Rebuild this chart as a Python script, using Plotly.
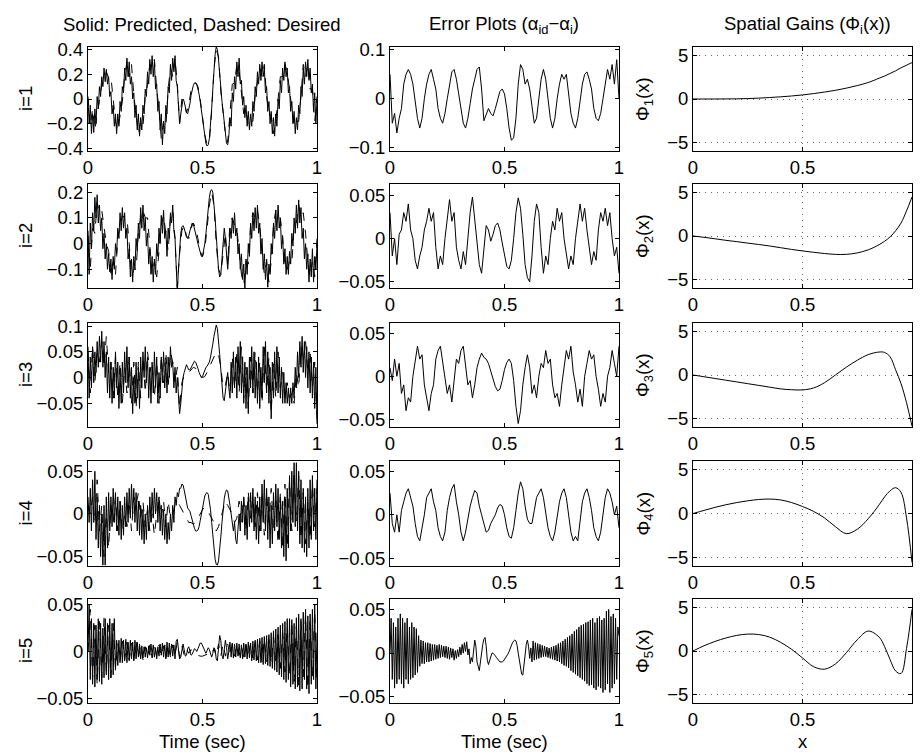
import numpy as np
import plotly.graph_objects as go

# Page is drawn with the browser's default 8px body margin, so the figure is
# sized to the visible area and every pixel position is given relative to it.
W, H = 905, 748
OFF = 8
FONT = "Liberation Sans, Arial, Helvetica, sans-serif"

# ---------------- data ----------------
# Column 1: predicted (solid) and desired (dashed) modal amplitudes, t = 0..1 s
pred1 = [0.00,-0.20,-0.05,-0.28,-0.12,-0.27,-0.08,-0.20,0.02,-0.08,
         0.10,0.02,0.18,0.10,0.25,0.14,0.24,0.12,0.18,0.02,
         0.06,-0.12,-0.05,-0.22,-0.12,-0.28,-0.12,-0.22,-0.02,-0.10,
         0.10,0.05,0.25,0.15,0.33,0.18,0.30,0.12,0.18,0.00,
         0.05,-0.15,-0.05,-0.25,-0.12,-0.30,-0.15,-0.25,-0.05,-0.12,
         0.08,0.02,0.22,0.12,0.32,0.20,0.35,0.18,0.30,0.08,
         0.12,-0.10,-0.02,-0.25,-0.12,-0.37,-0.18,-0.28,-0.05,-0.12,
         0.10,0.05,0.28,0.15,0.33,0.22,0.35,0.15,0.10,-0.05,
         -0.20,
         -0.12,-0.04,0.00,-0.02,-0.07,-0.11,-0.12,-0.09,-0.04,0.03,
         0.08,0.11,0.13,0.13,0.12,0.09,0.04,-0.02,-0.09,-0.16,
         -0.24,-0.31,-0.36,-0.38,-0.37,-0.32,-0.22,-0.08,0.08,0.24,
         0.36,0.42,0.40,0.32,0.18,0.06,-0.02,-0.10,-0.20,-0.30,
         -0.36,-0.37,-0.30,
         -0.15,-0.22,0.05,-0.02,0.18,0.08,0.30,0.18,0.33,0.12,
         0.15,-0.05,0.02,-0.15,-0.05,-0.22,-0.10,-0.25,-0.12,-0.22,
         -0.02,-0.10,0.10,0.02,0.22,0.12,0.28,0.15,0.30,0.18,
         0.25,0.05,0.10,-0.10,-0.02,-0.20,-0.10,-0.28,-0.15,-0.30,
         -0.12,-0.22,0.00,-0.08,0.15,0.05,0.25,0.15,0.30,0.18,
         0.25,0.05,0.10,-0.10,-0.02,-0.20,-0.10,-0.28,-0.15,-0.25,
         -0.05,-0.12,0.10,0.02,0.25,0.12,0.30,0.18,0.32,0.15,
         0.25,0.05,0.12,-0.10,0.05,-0.20,0.00]
des1 = [0.02,-0.22,-0.08,-0.25,-0.12,-0.02,0.12,0.13,0.22,0.17,
        0.18,-0.02,-0.18,-0.25,-0.15,-0.02,0.18,0.3,0.18,0.28,
        0.03,-0.12,-0.28,-0.18,-0.22,0.02,0.12,0.28,0.25,0.32,
        0.08,-0.08,-0.32,-0.18,-0.22,0.08,0.25,0.18,0.33,0.12,
        -0.19,0.0,-0.02,-0.11,-0.05,0.07,0.12,0.13,0.1,0.0,
        -0.14,-0.29,-0.37,-0.34,-0.1,0.24,0.4,0.34,0.06,-0.1,
        -0.28,-0.35,-0.12,0.12,0.13,0.28,0.22,0.02,-0.12,-0.08,
        -0.22,-0.18,-0.18,0.02,0.13,0.25,0.18,0.28,0.02,-0.12,
        -0.13,-0.28,-0.18,-0.02,0.18,0.18,0.28,0.22,0.08,-0.08,
        -0.22,-0.18,-0.18,0.02,0.28,0.18,0.28,0.08,0.08,-0.18,
        0.02]
pred2 = [0.05,-0.12,0.08,-0.02,0.12,0.05,0.18,0.10,0.19,0.08,
         0.15,0.05,0.10,-0.02,0.04,-0.06,0.00,-0.10,-0.04,-0.11,
         -0.06,-0.14,-0.05,-0.10,0.00,-0.04,0.06,0.02,0.12,0.05,
         0.14,0.06,0.12,0.02,0.06,-0.06,-0.02,-0.13,-0.06,-0.15,
         -0.05,-0.10,0.02,-0.03,0.08,0.02,0.14,0.06,0.15,0.05,
         0.10,-0.01,0.04,-0.08,-0.02,-0.12,-0.05,-0.15,-0.06,-0.12,
         0.00,-0.05,0.06,0.00,0.11,0.04,0.13,0.02,0.05,-0.05,
         0.06,0.02,0.12,0.08,0.15,0.05,0.02,-0.12,-0.19,-0.10,
         -0.02,
         0.04,0.065,0.07,0.06,0.04,0.025,0.02,0.03,0.05,0.07,
         0.08,0.075,0.06,0.04,0.02,0.0,-0.02,-0.04,-0.05,-0.05,
         -0.03,0.0,0.04,0.09,0.14,0.18,0.205,0.21,0.20,0.16,
         0.10,0.03,-0.04,-0.10,-0.13,-0.12,-0.06,0.02,0.06,0.02,
         -0.06,-0.10,-0.04,
         0.06,0.02,0.10,0.04,0.12,0.03,0.06,-0.04,0.00,-0.10,
         -0.04,-0.14,-0.08,-0.18,-0.06,-0.12,0.00,-0.05,0.08,0.02,
         0.12,0.05,0.14,0.06,0.15,0.04,0.08,-0.04,0.02,-0.10,
         -0.04,-0.14,-0.06,-0.17,-0.08,-0.12,0.00,-0.04,0.08,0.02,
         0.13,0.05,0.15,0.06,0.10,-0.02,0.03,-0.08,-0.02,-0.12,
         -0.05,-0.12,-0.03,-0.08,0.04,-0.01,0.10,0.04,0.15,0.06,
         0.17,0.08,0.14,0.02,0.06,-0.06,0.00,-0.10,-0.04,-0.15,
         -0.06,-0.13,-0.02,-0.15,-0.05,-0.10,0.00]
des2 = [0.03,-0.1,0.06,0.04,0.16,0.12,0.13,0.07,0.0,-0.03,
        -0.12,-0.07,-0.12,0.02,0.07,0.11,0.1,0.1,0.0,-0.13,
        -0.1,-0.1,0.04,0.1,0.13,0.1,0.1,0.0,-0.12,-0.07,
        -0.13,-0.03,0.07,0.11,0.04,-0.03,0.1,0.13,0.02,-0.17,
        -0.04,0.05,0.07,0.03,0.02,0.06,0.08,0.06,0.02,-0.03,
        -0.05,-0.02,0.06,0.15,0.2,0.15,0.0,-0.1,-0.12,-0.05,
        0.04,-0.08,0.08,0.1,0.07,0.06,-0.03,-0.12,-0.16,-0.07,
        -0.08,0.07,0.12,0.1,0.13,0.07,-0.03,-0.12,-0.07,-0.15,
        -0.07,0.07,0.13,0.1,0.1,0.02,-0.1,-0.1,-0.07,-0.08,
        0.07,0.08,0.15,0.1,0.12,0.04,-0.07,-0.13,-0.07,-0.13,
        0.02]
pred3 = [0.06,-0.04,0.04,-0.02,0.06,-0.01,0.05,0.01,0.07,0.02,
         0.08,0.03,0.09,0.02,0.07,0.0,0.05,-0.03,0.04,-0.04,
         0.03,-0.05,0.02,-0.04,0.05,-0.02,0.03,-0.06,0.01,-0.05,
         0.03,-0.03,0.05,-0.01,0.06,-0.02,0.04,-0.04,0.02,-0.07,
         0.0,-0.05,0.03,-0.04,0.02,-0.06,0.04,-0.02,0.05,0.0,
         0.06,-0.01,0.04,-0.04,0.02,-0.05,0.03,-0.03,0.05,-0.02,
         0.04,-0.05,0.01,-0.04,0.04,-0.01,0.05,-0.02,0.03,-0.03,
         0.04,0.0,0.06,0.02,0.03,-0.02,0.02,-0.03,0.0,-0.05,
         -0.07,
         -0.05,-0.02,0.0,0.01,0.02,0.025,0.02,0.015,0.015,0.02,
         0.025,0.03,0.032,0.03,0.025,0.018,0.01,0.004,0.0,0.002,
         0.008,0.015,0.02,0.022,0.025,0.03,0.04,0.05,0.065,0.08,
         0.095,0.102,0.095,0.075,0.045,0.015,-0.015,-0.04,-0.045,-0.03,
         -0.01,0.01,-0.02,
         -0.04,0.03,-0.03,0.05,-0.02,0.04,-0.04,0.06,-0.01,0.07,
         -0.03,0.04,-0.05,0.03,-0.06,0.02,-0.07,0.04,-0.02,0.06,
         -0.03,0.05,-0.04,0.03,-0.05,0.04,-0.06,0.02,-0.04,0.06,
         -0.01,0.07,-0.03,0.05,-0.05,0.02,-0.08,0.03,-0.04,0.05,
         -0.02,0.06,-0.03,0.04,-0.04,0.02,-0.05,0.01,-0.05,-0.01,
         -0.05,-0.02,-0.055,-0.02,-0.05,-0.01,-0.04,0.02,-0.02,0.05,
         0.0,0.07,0.02,0.08,0.01,0.07,0.0,0.06,-0.02,0.05,
         -0.03,0.04,-0.04,0.03,-0.06,0.02,-0.09]
des3 = [0.05,-0.03,0.06,-0.01,0.05,0.03,0.07,0.02,0.08,0.01,
        0.03,-0.04,0.04,-0.04,0.03,-0.05,0.02,-0.03,0.04,-0.05,
        0.03,-0.06,0.03,-0.04,0.04,-0.03,0.05,0.01,0.03,-0.04,
        0.03,-0.05,0.04,-0.01,0.05,-0.02,0.05,0.03,-0.01,0.02,
        -0.06,-0.01,0.005,0.01,0.01,0.015,0.02,0.018,0.01,0.003,
        0.0,0.002,0.01,0.02,0.03,0.04,0.05,0.045,0.02,-0.02,
        -0.015,0.01,-0.03,0.04,-0.02,0.05,-0.03,0.06,-0.04,0.02,
        -0.06,0.04,-0.03,0.05,-0.03,0.03,-0.05,0.06,-0.03,0.04,
        -0.07,0.03,-0.04,0.05,-0.02,0.01,-0.04,-0.01,-0.04,-0.03,
        -0.05,0.01,-0.02,0.06,0.03,0.07,0.01,0.05,-0.02,0.03,
        -0.08]
pred4 = [0.02,-0.01,0.03,-0.02,0.04,-0.01,0.05,-0.03,0.02,-0.04,
         0.01,-0.05,0.0,-0.06,0.01,-0.06,0.02,-0.04,0.025,-0.02,
         0.02,-0.015,0.03,-0.01,0.025,-0.02,0.02,-0.025,0.015,-0.03,
         0.01,-0.025,0.02,-0.015,0.025,-0.01,0.03,-0.005,0.035,0.0,
         0.03,-0.01,0.025,-0.02,0.015,-0.025,0.01,-0.03,0.005,-0.035,
         0.0,-0.03,0.01,-0.02,0.02,-0.01,0.025,-0.005,0.03,0.0,
         0.025,-0.01,0.02,-0.02,0.01,-0.025,0.005,-0.03,0.0,-0.035,
         -0.01,-0.03,0.0,-0.02,0.01,-0.01,0.02,0.01,0.025,0.02,
         0.03,
         0.03,0.035,0.034,0.028,0.02,0.012,0.007,0.005,0.003,-0.002,
         -0.008,-0.013,-0.017,-0.02,-0.02,-0.019,-0.015,-0.008,0.0,0.008,
         0.016,0.021,0.024,0.025,0.023,0.016,0.005,-0.01,-0.026,-0.041,
         -0.053,-0.059,-0.06,-0.055,-0.043,-0.027,-0.01,0.006,0.018,0.025,
         0.028,0.027,0.02,
         0.01,0.0,-0.01,-0.02,-0.01,-0.03,-0.035,-0.02,0.0,-0.02,
         0.015,-0.01,0.02,-0.025,0.01,-0.03,0.02,-0.015,0.025,-0.01,
         0.03,-0.02,0.02,-0.03,0.015,-0.035,0.02,-0.02,0.035,-0.01,
         0.04,-0.02,0.03,-0.03,0.02,-0.04,0.01,-0.035,0.025,-0.02,
         0.035,-0.015,0.03,-0.03,0.02,-0.04,0.015,-0.05,0.02,-0.055,
         0.03,-0.04,0.045,-0.02,0.05,-0.01,0.06,-0.015,0.06,-0.02,
         0.05,-0.035,0.04,-0.04,0.03,-0.045,0.02,-0.05,0.03,-0.04,
         0.04,-0.03,0.045,-0.02,0.03,-0.03,0.04]
des4 = [0.01,0.0,0.02,-0.01,0.04,-0.02,0.01,-0.05,0.0,-0.04,
        0.01,-0.01,0.02,-0.02,0.015,-0.02,0.0,-0.015,0.015,-0.02,
        0.02,0.01,0.025,-0.005,0.015,-0.015,0.005,-0.02,0.0,-0.025,
        0.0,0.02,-0.005,0.015,-0.015,0.015,-0.005,0.0,0.01,0.015,
        0.01,0.005,0.0,-0.005,-0.01,-0.01,-0.012,-0.01,-0.005,0.0,
        0.005,0.008,0.005,0.0,-0.005,-0.01,-0.02,-0.015,-0.005,0.005,
        0.015,0.01,0.005,0.0,-0.01,-0.005,0.015,-0.01,0.02,-0.02,
        0.025,-0.005,0.02,-0.015,0.025,-0.02,0.02,-0.025,0.025,-0.01,
        0.03,-0.02,0.015,-0.035,0.025,-0.04,0.035,-0.04,0.04,-0.02,
        0.05,-0.01,0.045,-0.03,0.025,-0.035,0.015,-0.03,0.035,-0.015,
        0.03]
pred5 = [0.0,0.05,-0.03,0.035,-0.035,0.03,-0.038,0.028,-0.03,0.035,
         -0.032,0.03,-0.035,0.025,-0.028,0.035,-0.025,0.03,-0.03,0.035,
         -0.028,0.03,-0.025,0.035,-0.02,0.012,-0.015,0.012,-0.012,0.014,
         -0.012,0.012,-0.01,0.013,-0.012,0.01,-0.01,0.012,-0.008,0.01,
         -0.01,0.012,-0.008,0.01,-0.006,0.008,-0.008,0.006,-0.007,0.005,
         -0.006,0.004,-0.007,0.006,-0.004,0.008,-0.003,0.007,-0.006,0.004,
         -0.008,0.005,-0.005,0.008,-0.004,0.009,-0.006,0.007,-0.008,0.01,
         -0.006,0.009,-0.004,0.008,-0.005,0.007,-0.008,0.011,0.013,0.002,
         -0.008,
         -0.006,0.004,0.008,0.002,-0.005,-0.004,0.003,0.005,0.0,-0.004,
         -0.003,0.0,0.003,0.002,0.0,0.003,0.006,0.009,0.009,0.006,
         0.002,-0.001,-0.002,0.001,0.004,0.002,-0.004,-0.006,-0.002,0.004,
         0.002,-0.008,-0.01,0.004,0.017,0.012,-0.004,-0.008,0.004,0.012,
         0.004,-0.008,0.0,
         0.01,-0.006,0.009,-0.007,0.008,-0.006,0.009,-0.005,0.008,-0.007,
         0.007,-0.008,0.009,-0.006,0.008,-0.008,0.01,-0.007,0.009,-0.01,
         0.011,-0.009,0.012,-0.01,0.013,-0.012,0.014,-0.012,0.015,-0.014,
         0.016,-0.013,0.017,-0.015,0.018,-0.016,0.02,-0.018,0.022,-0.02,
         0.024,-0.022,0.026,-0.025,0.028,-0.027,0.03,-0.03,0.032,-0.033,
         0.035,-0.03,0.035,-0.038,0.034,-0.035,0.03,-0.04,0.036,-0.038,
         0.04,-0.042,0.035,-0.04,0.042,-0.03,0.045,-0.04,0.038,-0.045,
         0.04,-0.035,0.045,-0.03,0.05,-0.04,0.02]
des5 = [0.0,0.045,-0.03,0.028,-0.035,0.032,-0.028,0.036,-0.022,0.028,
        -0.028,0.03,-0.018,0.009,-0.01,0.011,-0.009,0.01,-0.009,0.009,
        -0.009,0.01,-0.007,0.007,-0.009,0.005,-0.006,0.007,-0.007,0.006,
        -0.004,0.007,-0.005,0.006,-0.007,0.008,-0.006,0.007,-0.004,0.01,
        -0.006,0.006,-0.004,0.003,-0.002,0.002,-0.002,-0.003,-0.004,-0.005,
        -0.005,-0.004,-0.003,0.0,-0.002,0.003,-0.005,0.008,-0.005,0.008,
        -0.005,0.008,-0.005,0.008,-0.005,0.007,-0.004,0.006,-0.006,0.007,
        -0.005,0.009,-0.007,0.01,-0.009,0.011,-0.011,0.013,-0.011,0.013,
        -0.013,0.016,-0.013,0.018,-0.018,0.02,-0.022,0.027,-0.027,0.032,
        -0.032,0.027,-0.036,0.032,-0.027,0.04,-0.04,0.036,-0.027,0.045,
        -0.036]

# Column 2: errors (alpha_id - alpha_i)
err1 = [0.05,-0.05,-0.03,-0.07,-0.04,-0.02,0.03,0.05,0.06,0.05,
        0.03,-0.01,-0.04,-0.06,-0.04,0.0,0.03,0.05,0.06,0.04,
        0.02,-0.02,-0.04,-0.05,-0.03,0.0,0.03,0.055,0.06,0.04,
        0.01,-0.02,-0.05,-0.06,-0.04,-0.01,0.02,0.04,0.06,0.065,
        0.02,-0.045,-0.03,-0.02,-0.03,-0.035,-0.02,0.0,0.015,0.02,
        0.01,-0.02,-0.06,-0.085,-0.08,-0.04,0.03,0.07,0.06,0.03,
        0.04,0.02,-0.02,-0.05,-0.04,0.0,0.04,0.06,0.04,0.0,
        -0.04,-0.06,-0.04,0.0,0.03,0.05,0.04,0.05,0.01,-0.03,
        -0.05,-0.06,-0.04,0.0,0.03,0.05,0.055,0.04,0.02,-0.02,
        -0.04,-0.045,-0.03,0.0,0.03,0.06,0.04,0.07,0.03,0.08,
        0.0]
err2 = [0.03,-0.02,0.0,-0.03,0.005,0.01,0.03,0.02,0.04,0.01,
        0.0,-0.025,-0.035,-0.02,-0.01,0.01,0.02,0.035,0.02,0.03,
        -0.01,-0.035,-0.02,-0.03,0.0,0.02,0.045,0.02,0.03,-0.01,
        -0.025,-0.035,-0.015,-0.03,0.0,0.03,0.048,0.02,-0.01,-0.03,
        -0.04,-0.01,0.015,0.01,-0.003,0.005,0.015,0.018,0.01,-0.005,
        -0.02,-0.032,-0.035,-0.025,0.0,0.03,0.047,0.035,0.005,-0.03,
        -0.045,-0.05,-0.02,0.02,0.04,0.03,-0.01,-0.04,-0.02,-0.03,
        0.0,0.02,0.01,0.035,0.02,0.03,0.0,-0.02,-0.035,-0.02,
        -0.03,0.0,0.02,0.04,0.02,0.035,0.01,-0.01,-0.03,-0.015,
        -0.025,0.01,0.03,0.02,0.035,0.015,0.03,0.0,-0.02,-0.01,
        -0.04]
err3 = [0.01,-0.005,0.02,0.0,0.015,-0.02,-0.01,-0.04,-0.025,-0.03,
        0.0,0.02,0.035,0.02,0.025,-0.01,-0.025,-0.04,-0.02,-0.01,
        0.02,0.03,0.035,0.015,0.0,-0.02,-0.01,-0.03,-0.005,0.02,
        0.015,0.03,0.035,0.01,-0.01,-0.005,-0.025,-0.01,0.01,0.02,
        0.027,0.022,0.02,0.015,0.005,-0.005,-0.012,-0.017,-0.015,-0.005,
        0.008,0.016,0.02,0.015,-0.005,-0.035,-0.055,-0.04,-0.01,0.01,
        0.025,0.01,-0.02,-0.01,-0.025,0.0,0.015,0.01,0.03,0.015,
        0.02,-0.01,-0.025,-0.02,-0.035,-0.01,0.01,0.03,0.02,0.035,
        0.005,-0.01,-0.03,-0.015,-0.035,0.0,0.015,0.03,0.02,0.025,
        0.0,-0.015,-0.035,-0.02,-0.03,0.0,0.01,0.03,0.015,0.0,
        0.035]
err4 = [0.025,-0.01,-0.02,0.0,-0.02,0.005,0.015,0.025,0.03,0.02,
        0.01,-0.01,-0.025,-0.03,-0.015,0.0,0.02,0.025,0.03,0.015,
        0.005,-0.015,-0.025,-0.03,-0.02,0.005,0.02,0.03,0.035,0.015,
        0.0,-0.02,-0.03,-0.02,-0.005,0.01,0.02,0.028,0.025,0.01,
        0.0,-0.01,-0.02,-0.018,-0.01,-0.005,0.0,0.008,0.012,0.01,
        0.0,-0.015,-0.025,-0.027,-0.015,0.005,0.025,0.038,0.03,0.01,
        -0.005,-0.01,-0.01,0.005,0.02,0.025,0.03,0.02,0.0,-0.015,
        -0.025,-0.03,-0.02,0.0,0.015,0.025,0.03,0.02,0.0,-0.02,
        -0.03,-0.025,-0.03,-0.005,0.015,0.025,0.03,0.02,0.005,-0.015,
        -0.025,-0.03,-0.02,0.0,0.02,0.03,0.025,0.015,0.0,0.01,
        -0.015]
err5 = [0.0,0.04,-0.03,0.035,-0.04,0.03,-0.035,0.04,-0.03,0.045,
        -0.035,0.04,-0.04,0.035,-0.03,0.04,-0.035,0.03,-0.03,0.035,
        -0.028,0.03,-0.025,0.028,-0.022,0.02,-0.015,0.015,-0.012,0.014,
        -0.012,0.012,-0.01,0.012,-0.01,0.011,-0.009,0.01,-0.008,0.01,
        -0.007,0.009,-0.006,0.01,-0.005,0.009,-0.004,0.008,-0.005,0.008,
        -0.006,0.007,-0.007,0.006,-0.005,0.005,-0.008,0.003,-0.006,0.004,
        -0.004,0.007,-0.002,0.01,0.0,0.012,0.002,0.013,-0.002,0.005,
        -0.012,-0.005,-0.01,0.008,0.015,0.008,-0.01,-0.015,-0.02,-0.01,
        0.002,
        0.01,0.016,0.018,0.008,-0.008,-0.013,-0.008,-0.002,0.0,0.0,
        -0.001,-0.003,-0.005,-0.007,-0.009,-0.01,-0.01,-0.01,-0.009,-0.007,
        -0.006,-0.004,-0.001,0.002,0.006,0.009,0.012,0.014,0.015,0.014,
        0.009,0.0,-0.01,-0.019,-0.024,-0.025,-0.016,-0.002,0.01,0.015,
        0.008,-0.006,0.006,
        -0.01,0.014,-0.008,0.012,-0.007,0.011,-0.006,0.01,-0.005,0.009,
        -0.004,0.008,-0.004,0.007,-0.005,0.006,-0.006,0.007,-0.007,0.008,
        -0.008,0.009,-0.009,0.011,-0.01,0.012,-0.012,0.014,-0.014,0.016,
        -0.015,0.018,-0.017,0.02,-0.02,0.022,-0.022,0.025,-0.024,0.027,
        -0.026,0.03,-0.028,0.032,-0.03,0.033,-0.032,0.035,-0.035,0.036,
        -0.037,0.038,-0.036,0.04,-0.04,0.035,-0.042,0.04,-0.038,0.042,
        -0.04,0.038,-0.045,0.04,-0.042,0.048,-0.035,0.05,-0.045,0.042,
        -0.04,0.045,-0.035,0.04,-0.03,0.03,0.02]

# Column 3: spatial gains Phi_i(x)
x_sp = [0,0.05,0.1,0.15,0.2,0.25,0.3,0.35,0.4,0.45,0.5,0.55,0.6,0.65,0.7,0.75,
        0.8,0.85,0.875,0.9,0.925,0.95,0.975,1.0]
phi1 = [0,0,0,0.01,0.02,0.05,0.1,0.17,0.25,0.35,0.47,0.62,0.8,1.0,1.25,1.55,
        1.9,2.4,2.65,2.95,3.25,3.6,3.9,4.2]
phi2 = [0,-0.15,-0.32,-0.5,-0.65,-0.82,-0.98,-1.15,-1.35,-1.55,-1.72,-1.88,-2.02,-2.12,-2.12,-1.95,
        -1.6,-1.0,-0.6,-0.1,0.6,1.5,2.9,4.5]
phi3 = [0,-0.2,-0.4,-0.6,-0.8,-1.0,-1.2,-1.4,-1.6,-1.7,-1.72,-1.5,-0.9,0.0,0.9,1.7,
        2.35,2.65,2.6,2.1,0.6,-1.0,-3.2,-5.9]
phi4 = [0,0.35,0.7,1.0,1.25,1.45,1.6,1.65,1.55,1.25,0.8,0.25,-0.5,-1.5,-2.3,-1.8,
        -0.6,1.0,1.9,2.6,2.95,2.4,-0.5,-5.6]
phi5 = [0,0.6,1.1,1.5,1.8,1.95,1.9,1.6,1.0,0.2,-0.8,-1.8,-2.1,-1.5,-0.2,1.3,
        2.3,1.6,0.5,-1.0,-2.3,-2.6,0.3,4.8]

row_labels = ["i=1", "i=2", "i=3", "i=4", "i=5"]
col_titles = ["Solid: Predicted, Dashed: Desired",
              "Error Plots (α<sub>id</sub>−α<sub>i</sub>)",
              "Spatial Gains (Φ<sub>i</sub>(x))"]
x_titles = ["Time (sec)", "Time (sec)", "x"]
x_ticks = [0, 0.5, 1]
c1_ranges = [(-0.42, 0.42), (-0.173, 0.232), (-0.096, 0.106), (-0.061, 0.062), (-0.055, 0.056)]
c1_ticks = [[-0.4, -0.2, 0, 0.2, 0.4], [-0.1, 0, 0.1, 0.2], [-0.05, 0, 0.05, 0.1],
            [-0.05, 0, 0.05], [-0.05, 0, 0.05]]
c2_ranges = [(-0.107, 0.106), (-0.057, 0.063), (-0.059, 0.062), (-0.059, 0.062), (-0.057, 0.062)]
c2_ticks = [[-0.1, 0, 0.1], [-0.05, 0, 0.05], [-0.05, 0, 0.05], [-0.05, 0, 0.05], [-0.05, 0, 0.05]]
c3_range = (-6, 6)
c3_ticks = [-5, 0, 5]

preds = [pred1, pred2, pred3, pred4, pred5]
dess = [des1, des2, des3, des4, des5]
errs = [err1, err2, err3, err4, err5]
phis = [phi1, phi2, phi3, phi4, phi5]

# ---------------- layout geometry (page pixels) ----------------
col_px = [(88, 317), (390, 619), (693, 912)]
row_px = [(47, 151), (184, 288), (323, 427), (461, 566), (599, 703)]
FS = 18.5


def px_x(p):
    return (p - OFF) / W


def px_y(p):
    return 1 - (p - OFF) / H


def fmt(v):
    if v == 0:
        return "0"
    s = f"{abs(v):g}"
    return ("−" + s) if v < 0 else s


fig = go.Figure()
layout = {}
tickfont = dict(family=FONT, size=FS, color="black")

for r in range(5):
    for c in range(3):
        n = r * 3 + c + 1
        xa = f"x{n}" if n > 1 else "x"
        ya = f"y{n}" if n > 1 else "y"
        if c == 0:
            y = preds[r]
            fig.add_trace(go.Scatter(x=np.linspace(0, 1, len(y)), y=y, mode="lines",
                                     xaxis=xa, yaxis=ya, line=dict(color="black", width=1)))
            yd = dess[r]
            fig.add_trace(go.Scatter(x=np.linspace(0, 1, len(yd)), y=yd, mode="lines",
                                     xaxis=xa, yaxis=ya,
                                     line=dict(color="black", width=1, dash="dash")))
            yr, yt = c1_ranges[r], c1_ticks[r]
        elif c == 1:
            y = errs[r]
            fig.add_trace(go.Scatter(x=np.linspace(0, 1, len(y)), y=y, mode="lines",
                                     xaxis=xa, yaxis=ya, line=dict(color="black", width=1)))
            yr, yt = c2_ranges[r], c2_ticks[r]
        else:
            fig.add_trace(go.Scatter(x=x_sp, y=phis[r], mode="lines", xaxis=xa, yaxis=ya,
                                     line=dict(color="black", width=1, shape="spline")))
            yr, yt = c3_range, c3_ticks
        x0, x1 = col_px[c]
        y0, y1 = row_px[r]
        grid = (c == 2)
        common = dict(ticks="inside", ticklen=4, tickcolor="black", tickwidth=1,
                      showline=True, linecolor="black", linewidth=1, mirror="ticks",
                      zeroline=False, tickfont=tickfont, automargin=False,
                      showgrid=grid, gridcolor="#666", griddash="1px,5px", gridwidth=1)
        layout["xaxis" + ("" if n == 1 else str(n))] = dict(
            domain=[px_x(x0), min(1.0, px_x(x1))], range=[0, 1], anchor=ya,
            tickvals=x_ticks, ticktext=[fmt(v) for v in x_ticks], **common)
        layout["yaxis" + ("" if n == 1 else str(n))] = dict(
            domain=[px_y(y1), px_y(y0)], range=list(yr), anchor=xa,
            tickvals=yt, ticktext=[fmt(v) for v in yt], **common)

annotations = []
afont = dict(family=FONT, size=FS, color="black")
title_cx = [202, 504, 807]
for c, txt in enumerate(col_titles):
    annotations.append(dict(text=txt, x=px_x(title_cx[c]), y=px_y(25), xref="paper",
                            yref="paper", showarrow=False, xanchor="center",
                            yanchor="middle", font=afont))
for r in range(5):
    cy = (row_px[r][0] + row_px[r][1]) / 2
    annotations.append(dict(text=row_labels[r], x=px_x(25), y=px_y(cy), xref="paper",
                            yref="paper", showarrow=False, xanchor="center",
                            yanchor="middle", textangle=-90, font=afont))
    annotations.append(dict(text=f"Φ<sub>{r + 1}</sub>(x)", x=px_x(644), y=px_y(cy),
                            xref="paper", yref="paper", showarrow=False,
                            xanchor="center", yanchor="middle", textangle=-90, font=afont))
for c, txt in enumerate(x_titles):
    cx = (col_px[c][0] + col_px[c][1]) / 2
    annotations.append(dict(text=txt, x=px_x(cx), y=px_y(741), xref="paper", yref="paper",
                            showarrow=False, xanchor="center", yanchor="middle", font=afont))

fig.update_layout(width=W, height=H,
                  margin=dict(l=0, r=0, t=0, b=0, pad=0, autoexpand=False),
                  paper_bgcolor="white", plot_bgcolor="white", showlegend=False,
                  annotations=annotations, **layout)

fig.write_html("out.html")
